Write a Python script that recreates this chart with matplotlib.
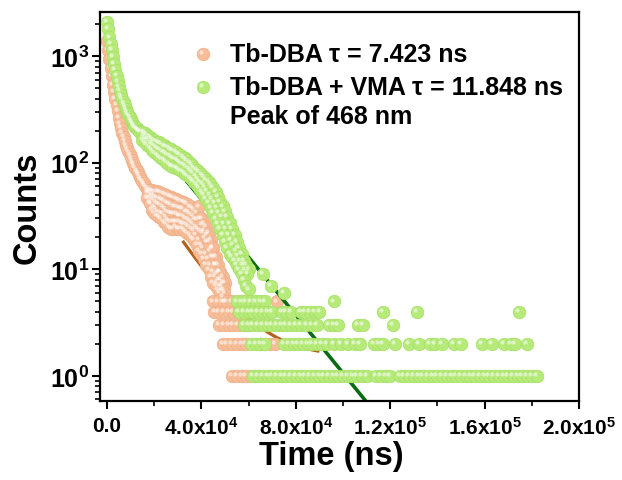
import numpy as np
import matplotlib
matplotlib.use('Agg')
import matplotlib.pyplot as plt
from matplotlib.transforms import offset_copy
from matplotlib.ticker import LogLocator, NullFormatter, MultipleLocator

plt.rcParams['font.family'] = 'Liberation Sans'
plt.rcParams['font.weight'] = 'bold'
plt.rcParams['mathtext.fontset'] = 'custom'
plt.rcParams['mathtext.rm'] = 'Liberation Sans:bold'
plt.rcParams['mathtext.bf'] = 'Liberation Sans:bold'
plt.rcParams['mathtext.it'] = 'Liberation Sans:bold'

# time values in units of 1e3 ns, counts

# Tb-DBA decay
orange_t_head = [0, 0.5, 1, 1.5, 2, 2.5, 3, 3.5, 4, 4.5, 5, 5.5, 6, 6.5, 7, 7.5,
                 8, 8.5, 9, 9.5, 10, 10.5, 11, 11.5, 12, 12.5, 13, 13.5, 14, 14.5,
                 15, 15.5, 16]
orange_c_head = [1400, 1150, 950, 780, 650, 540, 460, 400, 350, 305, 265, 235, 212,
                 192, 175, 160, 148, 138, 129, 121, 113, 106, 100, 95, 90, 85, 81,
                 77, 73, 70, 67, 64, 61]
orange_t_band = [17, 18, 19, 20, 21, 22, 23, 24, 25, 26, 27, 28, 29, 30, 31, 32, 33,
                 34, 35, 36, 37, 38, 39, 40, 41, 42, 43, 44, 45, 46, 47, 48, 49, 50]
orange_upper = [58, 56, 55, 54, 54, 53, 52, 51, 50, 49, 48, 47, 46, 45, 44, 43, 42,
                41, 39, 38, 36, 34, 39, 30, 27, 25, 22, 19, 16, 13, 11, 9.5, 8.5, 7.5]
orange_lower = [47, 42, 36, 34, 32, 31, 30, 28, 27, 25, 24, 24, 25, 24, 24, 24, 23,
                22, 21, 20, 19, 17, 15, 14, 12.5, 11, 10, 8.5, 7.5, 7, 6.5, 6, 5.5, 5]
orange_t_mid = [17.5, 18.5, 19.5, 20.5, 21.5, 22.5, 23.5, 24.5, 25.5, 26.5, 27.5,
                28.5, 29.5, 30.5, 31.5, 32.5, 33.5, 34.5, 35.5, 36.5, 37.5, 38.5,
                39.5, 40.5, 41.5, 42.5, 43.5, 44.5, 45.5, 46.5, 47.5, 48.5, 49.5]
orange_mid = [52, 48, 45, 43, 41, 40, 39, 37, 35, 34, 33, 33, 33, 32, 32, 31, 30, 29,
              28, 27, 25, 24, 23, 22, 20, 18, 15, 13, 11, 9, 8, 7, 6.5]
orange_t_q1 = [17.25, 18.25, 19.25, 20.25, 21.25, 22.25, 23.25, 24.25, 25.25, 26.25,
               27.25, 28.25, 29.25, 30.25, 31.25, 32.25, 33.25, 34.25, 35.25, 36.25,
               37.25, 38.25, 39.25, 40.25, 41.25, 42.25, 43.25, 44.25, 45.25, 46.25,
               47.25, 48.25, 49.25]
orange_q1 = [55, 52, 50, 48, 47, 46, 45, 44, 42, 41, 40, 39, 39, 38, 37, 37, 35, 35,
             33, 32, 30, 29, 30, 26, 23, 21, 18, 16, 13, 11, 9.5, 8, 7.5]
orange_t_q3 = [17.75, 18.75, 19.75, 20.75, 21.75, 22.75, 23.75, 24.75, 25.75, 26.75,
               27.75, 28.75, 29.75, 30.75, 31.75, 32.75, 33.75, 34.75, 35.75, 36.75,
               37.75, 38.75, 39.75, 40.75, 41.75, 42.75, 43.75, 44.75, 45.75, 46.75,
               47.75, 48.75, 49.75]
orange_q3 = [46, 41, 39, 37, 35, 34, 33, 31, 29, 28, 28, 28, 28, 28, 27, 27, 26, 25,
             24, 23, 21, 19, 17, 16, 14, 12.5, 11, 9.5, 8.5, 7.5, 7, 6.5, 6]
orange_lv5 = [45, 47, 49, 51, 53, 72]
orange_lv4 = [45.5, 47.5, 49.5, 51.5, 53.5, 55.5]
orange_lv3 = [47.5, 49.5, 51.5, 53.5, 55.5, 57.5, 59.5]
orange_lv2 = [49, 51, 53, 55, 57, 59, 65, 67, 69, 71]
orange_lv1 = [53, 55, 57, 59, 61, 62.5]

# Tb-DBA + VMA decay
green_t_head = [0, 0.5, 1, 1.5, 2, 2.5, 3, 3.5, 4, 4.5, 5, 5.5, 6, 6.5, 7, 7.5, 8,
                8.5, 9, 9.5, 10, 10.5, 11, 11.5, 12, 12.5, 13, 13.5, 14]
green_c_head = [2100, 1800, 1500, 1300, 1150, 980, 850, 740, 650, 580, 520, 470, 430,
                400, 370, 345, 320, 300, 285, 270, 255, 243, 232, 222, 215, 210, 205,
                200, 196]
green_t_band = [15, 16, 17, 18, 19, 20, 21, 22, 23, 24, 25, 26, 27, 28, 29, 30, 31,
                32, 33, 34, 35, 36, 37, 38, 39, 40, 41, 42, 43, 44, 45, 46, 47, 48,
                49, 50, 51, 52, 53, 54, 55, 56, 57, 58, 59, 60]
green_upper = [195, 190, 182, 175, 168, 162, 158, 155, 150, 146, 142, 138, 134, 130,
               126, 122, 118, 114, 110, 105, 100, 95, 90, 86, 82, 78, 74, 70, 66, 62,
               58, 53, 48, 43, 39, 35, 31, 27, 24, 21, 18, 16, 14, 12, 11, 10]
green_lower = [165, 155, 148, 140, 132, 125, 120, 115, 110, 106, 102, 98, 94, 92, 90,
               88, 85, 82, 79, 76, 73, 70, 66, 62, 58, 54, 50, 46, 42, 38, 34, 30, 27,
               24, 21, 18, 16, 14, 13, 12, 11, 10, 9, 8, 7, 6.5]
green_t_mid = [15.5, 16.5, 17.5, 18.5, 19.5, 20.5, 21.5, 22.5, 23.5, 24.5, 25.5, 26.5,
               27.5, 28.5, 29.5, 30.5, 31.5, 32.5, 33.5, 34.5, 35.5, 36.5, 37.5, 38.5,
               39.5, 40.5, 41.5, 42.5, 43.5, 44.5, 45.5, 46.5, 47.5, 48.5, 49.5, 50.5,
               51.5, 52.5, 53.5, 54.5, 55.5, 56.5, 57.5, 58.5, 59.5]
green_mid = [178, 170, 163, 155, 148, 142, 137, 133, 128, 124, 120, 116, 112, 109,
             106, 103, 99, 95, 92, 88, 84, 80, 75, 71, 67, 63, 59, 55, 50, 46, 42, 38,
             34, 31, 27, 24, 21, 19, 17, 15, 13.5, 12, 11, 10, 9]
green_extra_t = [66, 69.5, 75]
green_extra_c = [9, 7, 6]
green_lv5 = [55, 57, 59, 61, 63, 65, 67, 96]
green_lv4 = [56, 58, 60, 62, 64, 66, 68, 70, 74, 76, 78, 82, 84, 86, 88, 90, 117,
             131.5, 174.5]
green_lv3 = [58, 60, 62, 64, 66, 68, 70, 72, 74, 76, 78, 80, 82, 84.5, 87, 89, 94,
             96, 98, 106.5, 108.6, 121]
green_lv2 = [61, 63, 65, 67, 75, 77, 79, 81, 83, 85, 87, 89, 91, 93, 96, 99, 102,
             105, 107, 113, 115, 117, 122, 128, 132, 137, 139, 142, 147, 150, 159,
             163, 168, 171, 173, 178]
green_lv1 = [62, 64, 66, 68, 70, 72, 74, 76, 78, 80, 82, 84, 86, 88, 90, 92, 94, 96,
             98, 100, 102, 104, 106, 108, 110, 114, 116, 118, 120, 124, 126, 128, 130,
             132, 134, 136, 138, 140, 142, 144, 146, 148, 150, 152, 154, 156, 158,
             160, 162, 164, 166, 168, 170, 172, 174, 176, 178, 180, 182]

# fitted decay curves
orange_fit_t = [32, 36, 40, 44, 48, 52, 56, 60, 64, 68, 72, 76, 80, 84, 88, 90]
orange_fit_c = [18.5, 14.0, 10.7, 8.25, 6.46, 5.15, 4.18, 3.47, 2.95, 2.57, 2.28,
                2.07, 1.92, 1.81, 1.73, 1.70]
green_fit_t = [33.5, 112]
green_fit_c = [68, 0.5]

legend_labels = ['Tb-DBA \u03c4 = 7.423 ns', 'Tb-DBA + VMA \u03c4 = 11.848 ns']
peak_label = 'Peak of 468 nm'

orange = '#F6BD98'
orange_edge = '#EFB089'
green = '#B6EA79'
green_edge = '#A6E066'

fig = plt.figure(figsize=(6.22, 4.81), dpi=100)
ax = fig.add_axes([0.1608, 0.1642, 0.7701, 0.8088])
ax.set_yscale('log')

hl_data = offset_copy(ax.transData, fig=fig, x=-1.4, y=1.2, units='points')
hl_axes = offset_copy(ax.transAxes, fig=fig, x=-1.4, y=1.2, units='points')


def balls(t, c, color, edge, z, scale=1000.0, trans=None, hl=None):
    t = np.asarray(t, dtype=float) * scale
    c = np.asarray(c, dtype=float)
    kw = {} if trans is None else {'transform': trans}
    ax.scatter(t, c, s=82, color=color, edgecolors=edge, linewidths=0.5,
               zorder=z, **kw)
    ax.scatter(t, c, s=9, color='white', alpha=0.55, linewidths=0,
               zorder=z + 0.1, transform=hl_data if hl is None else hl)


orange_t = (orange_t_head + orange_t_band + orange_t_q1 + orange_t_mid + orange_t_q3
            + orange_t_band + orange_lv5 + orange_lv4 + orange_lv3 + orange_lv2
            + orange_lv1)
orange_c = (orange_c_head + orange_upper + orange_q1 + orange_mid + orange_q3
            + orange_lower
            + [5] * len(orange_lv5) + [4] * len(orange_lv4) + [3] * len(orange_lv3)
            + [2] * len(orange_lv2) + [1] * len(orange_lv1))
green_t = (green_t_head + green_t_band + green_t_mid + green_t_band + green_extra_t
           + green_lv5 + green_lv4 + green_lv3 + green_lv2 + green_lv1)
green_c = (green_c_head + green_upper + green_mid + green_lower + green_extra_c
           + [5] * len(green_lv5) + [4] * len(green_lv4) + [3] * len(green_lv3)
           + [2] * len(green_lv2) + [1] * len(green_lv1))

ax.plot(np.array(orange_fit_t) * 1000, orange_fit_c, color='#B5601A', lw=2.3,
        zorder=1.5, solid_capstyle='butt')
balls(orange_t, orange_c, orange, orange_edge, 2)
ax.plot(np.array(green_fit_t) * 1000, green_fit_c, color='#0B6B12', lw=2.6,
        zorder=2.5, solid_capstyle='butt')
balls(green_t, green_c, green, green_edge, 3)

# legend drawn by hand so the markers keep the sphere look
for i, (lab, col, ec) in enumerate(zip(legend_labels, [orange, green],
                                       [orange_edge, green_edge])):
    yy = 0.892 - i * 0.085
    balls([0.215], [yy], col, ec, 5, scale=1.0, trans=ax.transAxes, hl=hl_axes)
    ax.text(0.271, yy, lab, transform=ax.transAxes, fontsize=18,
            fontweight='bold', va='center', ha='left', zorder=6)
ax.text(0.271, 0.892 - 2 * 0.08, peak_label, transform=ax.transAxes,
        fontsize=18, fontweight='bold', va='center', ha='left', zorder=6)

ax.set_xlim(-3000, 200000)
ax.set_ylim(0.58, 2600)

xticks = [0, 40000, 80000, 120000, 160000, 200000]
xlabels = ['0.0', r'4.0x10$^{\mathbf{4}}$', r'8.0x10$^{\mathbf{4}}$',
           r'1.2x10$^{\mathbf{5}}$', r'1.6x10$^{\mathbf{5}}$', r'2.0x10$^{\mathbf{5}}$']
ax.set_xticks(xticks, labels=xlabels)
ax.xaxis.set_minor_locator(MultipleLocator(20000))
yticks = [1, 10, 100, 1000]
ylabels = [r'10$^{\mathbf{0}}$', r'10$^{\mathbf{1}}$', r'10$^{\mathbf{2}}$',
           r'10$^{\mathbf{3}}$']
ax.set_yticks(yticks, labels=ylabels)
ax.yaxis.set_minor_locator(LogLocator(base=10, subs=np.arange(2, 10)))
ax.yaxis.set_minor_formatter(NullFormatter())

ax.tick_params(which='major', direction='out', length=6, width=1.5,
               top=False, right=False)
ax.tick_params(which='minor', direction='out', length=3.5, width=1.2,
               top=False, right=False)
ax.tick_params(axis='x', labelsize=15, pad=5)
ax.tick_params(axis='y', labelsize=18, pad=2)
for s in ax.spines.values():
    s.set_linewidth(1.6)

ax.set_xlabel('Time (ns)', fontsize=23.5, fontweight='bold')
ax.set_ylabel('Counts', fontsize=23.5, fontweight='bold')
ax.xaxis.set_label_coords(0.482, -0.1)
ax.yaxis.set_label_coords(-0.12, 0.5)

fig.savefig('out.png', dpi=100)
